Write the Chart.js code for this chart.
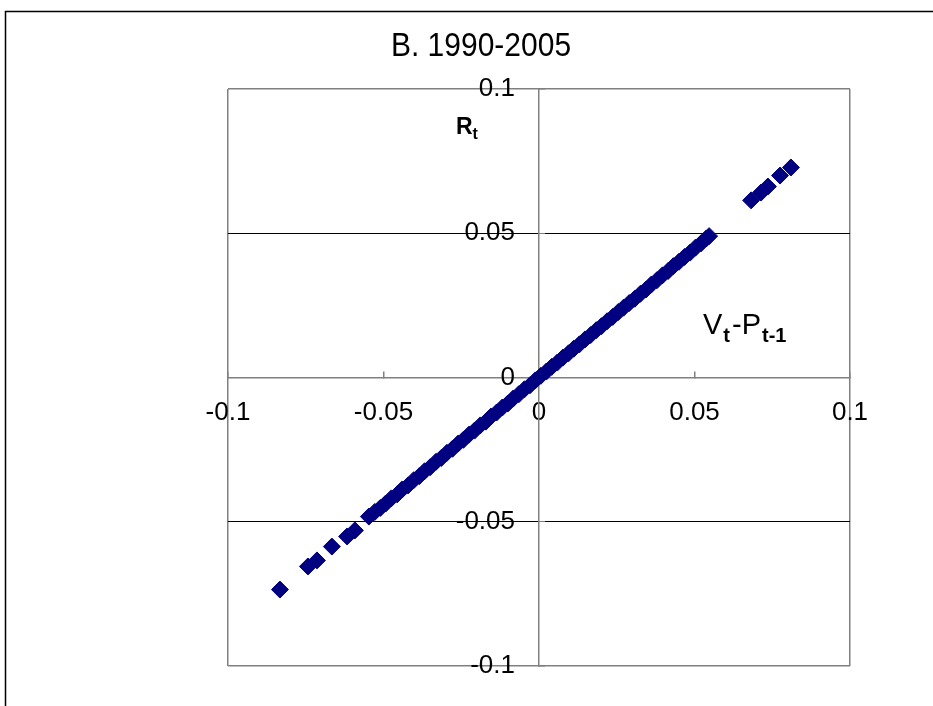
<!DOCTYPE html>
<html>
<head>
<meta charset="utf-8">
<script src="https://cdn.jsdelivr.net/npm/chart.js@4"></script>
<style>
  html, body { margin: 0; padding: 0; background: #fff; }
  #wrap { width: 933px; height: 706px; }
</style>
</head>
<body>
<div id="wrap"><canvas id="chart" width="933" height="706"></canvas></div>
<script>
// V(t) - P(t-1) on x, R(t) on y, 1990-2005
const xValues = [
  -0.0833, -0.0743, -0.0714, -0.0666, -0.0617, -0.0592,
  -0.0547, -0.0528, -0.0510, -0.0493, -0.0475, -0.0456, -0.0440, -0.0421, -0.0403, -0.0385,
  -0.0368, -0.0350, -0.0331, -0.0314, -0.0296, -0.0278, -0.0260, -0.0243, -0.0225, -0.0207,
  -0.0189, -0.0171, -0.0154, -0.0136, -0.0118, -0.0100, -0.0083, -0.0065, -0.0047, -0.0029,
  -0.0012, 0.0006, 0.0024, 0.0041, 0.0059, 0.0077, 0.0095, 0.0112, 0.0130, 0.0148,
  0.0166, 0.0184, 0.0201, 0.0219, 0.0237, 0.0255, 0.0272, 0.0290, 0.0308, 0.0326,
  0.0344, 0.0361, 0.0379, 0.0397, 0.0415, 0.0432, 0.0450, 0.0468, 0.0486, 0.0503,
  0.0521, 0.0538, 0.0547,
  0.0682, 0.0714, 0.0736, 0.0775, 0.0810
];
const yValues = [
  -0.0735, -0.0655, -0.0634, -0.0586, -0.0551, -0.0530,
  -0.0482, -0.0466, -0.0452, -0.0437, -0.0419, -0.0405, -0.0388, -0.0374, -0.0356, -0.0342,
  -0.0325, -0.0311, -0.0292, -0.0279, -0.0261, -0.0247, -0.0229, -0.0216, -0.0198, -0.0184,
  -0.0166, -0.0153, -0.0135, -0.0121, -0.0104, -0.0090, -0.0073, -0.0058, -0.0041, -0.0027,
  -0.0010, 0.0006, 0.0021, 0.0037, 0.0052, 0.0069, 0.0084, 0.0100, 0.0115, 0.0132,
  0.0147, 0.0164, 0.0178, 0.0195, 0.0210, 0.0227, 0.0242, 0.0258, 0.0273, 0.0290,
  0.0305, 0.0322, 0.0337, 0.0354, 0.0369, 0.0386, 0.0401, 0.0418, 0.0433, 0.0450,
  0.0465, 0.0482, 0.0490,
  0.0614, 0.0641, 0.0662, 0.0700, 0.0728
];
const xTickLabels = ['-0.1', '-0.05', '0', '0.05', '0.1'];
const yTickLabels = ['-0.1', '-0.05', '0', '0.05', '0.1'];
const titleText = 'B. 1990-2005';

const GRAY = '#808080';
const NAVY = '#000080';
const FONT = '"Liberation Sans", Arial, sans-serif';

const points = xValues.map((x, i) => ({ x: x, y: yValues[i] }));

// frame, title and axis names drawn on the canvas
const decor = {
  id: 'decor',
  afterDraw(chart) {
    const ctx = chart.ctx;
    ctx.save();
    ctx.strokeStyle = '#000';
    ctx.lineWidth = 1.5;
    ctx.beginPath();
    ctx.moveTo(5.5, 720);
    ctx.lineTo(5.5, 11.5);
    ctx.lineTo(940, 11.5);
    ctx.stroke();

    ctx.fillStyle = '#000';
    ctx.textBaseline = 'alphabetic';

    // title, a bit taller than wide like the source
    ctx.save();
    ctx.translate(481, 56);
    ctx.scale(1, 1.12);
    ctx.textAlign = 'center';
    ctx.font = '30px ' + FONT;
    ctx.fillText(titleText, 0, 0);
    ctx.restore();

    ctx.textAlign = 'left';
    ctx.font = 'bold 23px ' + FONT;
    ctx.fillText('R', 456, 134);
    let w = ctx.measureText('R').width;
    ctx.font = 'bold 16px ' + FONT;
    ctx.fillText('t', 456 + w, 139);

    let x = 703;
    ctx.font = '29px ' + FONT;
    ctx.fillText('V', x, 334);
    x += ctx.measureText('V').width;
    ctx.font = 'bold 20px ' + FONT;
    ctx.fillText('t', x + 1, 342);
    x += ctx.measureText('t').width + 3;
    ctx.font = '29px ' + FONT;
    ctx.fillText('-P', x, 334);
    x += ctx.measureText('-P').width + 1;
    ctx.font = 'bold 20px ' + FONT;
    ctx.fillText('t-1', x, 342);
    ctx.restore();
  }
};

new Chart(document.getElementById('chart'), {
  type: 'scatter',
  data: {
    datasets: [{
      data: points,
      pointStyle: 'rectRot',
      pointRadius: 8.5,
      pointHoverRadius: 8.5,
      backgroundColor: NAVY,
      borderColor: NAVY,
      borderWidth: 1
    }]
  },
  options: {
    responsive: false,
    animation: false,
    events: [],
    layout: { padding: { left: 228, right: 83, top: 89, bottom: 40 } },
    plugins: { legend: { display: false }, tooltip: { enabled: false } },
    scales: {
      x: {
        type: 'linear',
        position: 'center',
        min: -0.1,
        max: 0.1,
        afterFit: s => { s.height = 0; s.paddingLeft = 0; s.paddingRight = 0; },
        ticks: {
          stepSize: 0.05,
          autoSkip: false,
          maxRotation: 0,
          padding: 27,
          color: '#000',
          font: { family: FONT, size: 26 },
          callback: (v, i) => xTickLabels[i]
        },
        grid: {
          drawOnChartArea: true,
          color: c => (c.tick && Math.abs(Math.abs(c.tick.value) - 0.1) < 1e-9) ? GRAY : 'rgba(0,0,0,0)',
          tickColor: GRAY,
          tickLength: -7,
          lineWidth: 1.5
        },
        border: { display: true, color: GRAY, width: 1.5 }
      },
      y: {
        type: 'linear',
        position: 'center',
        min: -0.1,
        max: 0.1,
        afterFit: s => { s.width = 0; s.paddingTop = 0; s.paddingBottom = 0; },
        ticks: {
          stepSize: 0.05,
          autoSkip: false,
          padding: 31,
          color: '#000',
          font: { family: FONT, size: 26 },
          callback: (v, i) => yTickLabels[i]
        },
        grid: {
          color: c => {
            if (!c.tick) return '#000';
            const a = Math.abs(c.tick.value);
            if (a < 1e-9) return 'rgba(0,0,0,0)';
            if (Math.abs(a - 0.1) < 1e-9) return GRAY;
            return '#000';
          },
          lineWidth: c => (c.tick && Math.abs(Math.abs(c.tick.value) - 0.1) < 1e-9) ? 1.5 : 1,
          tickColor: GRAY,
          tickLength: -7
        },
        border: { display: true, color: GRAY, width: 1.5 }
      }
    }
  },
  plugins: [decor]
});
</script>
</body>
</html>
